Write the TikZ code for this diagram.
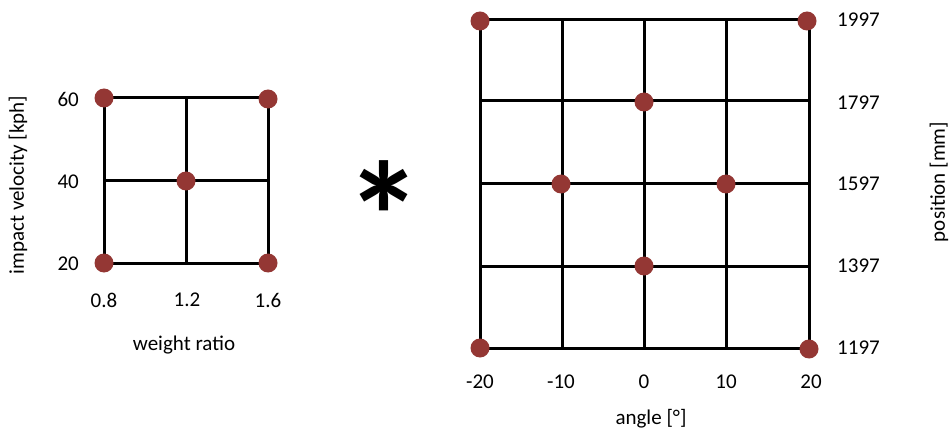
\documentclass[tikz,border=0pt]{standalone}
\usepackage{fontspec}
\setmainfont{Carlito}
\definecolor{dotred}{RGB}{148,55,52}
\begin{document}
\begin{tikzpicture}[x=1pt,y=-1pt,
  gridline/.style={line width=3pt,black},
  pt/.style={circle,fill=dotred,inner sep=0pt,minimum size=19pt},
  lbl/.style={font=\fontsize{21}{24}\selectfont,inner sep=0pt}]
\useasboundingbox (0,0) rectangle (949,430);
% left grid
\foreach \y in {98,181,263} \draw[gridline] (104,\y) -- (268,\y);
\foreach \x in {104,186,268} \draw[gridline] (\x,98) -- (\x,263);
\node[pt] (a1) at (104,98) {};
\node[pt] (a2) at (268,99) {};
\node[pt] (a3) at (186,181) {};
\node[pt] (a4) at (104,263) {};
\node[pt] (a5) at (268,263) {};
\node[lbl,anchor=east] (l60) at (79,99) {60};
\node[lbl,anchor=east] (l40) at (79,182) {40};
\node[lbl,anchor=east] (l20) at (79,264) {20};
\node[lbl] (l08) at (104,300) {0.8};
\node[lbl] (l12) at (187,300) {1.2};
\node[lbl] (l16) at (268,300) {1.6};
\node[lbl] (wr) at (184,345) {weight ratio};
\node[lbl,rotate=90] (iv) at (18,185) {impact velocity [kph]};
% asterisk
\node[font=\fontsize{155}{155}\selectfont\bfseries,inner sep=0pt] (star) at (384,216) {*};
% right grid
\foreach \y in {20,101,184,266,348} \draw[gridline] (480,\y) -- (809,\y);
\foreach \x in {480,562,644,726,809} \draw[gridline] (\x,20) -- (\x,348);
\node[pt] (b1) at (480,21) {};
\node[pt] (b2) at (807,21) {};
\node[pt] (b3) at (644,102) {};
\node[pt] (b4) at (561,184) {};
\node[pt] (b5) at (726,184) {};
\node[pt] (b6) at (644,266) {};
\node[pt] (b7) at (480,348) {};
\node[pt] (b8) at (809,349) {};
\node[lbl,anchor=west] (r1997) at (837,20) {1997};
\node[lbl,anchor=west] (r1797) at (837,103) {1797};
\node[lbl,anchor=west] (r1597) at (837,184) {1597};
\node[lbl,anchor=west] (r1397) at (837,266) {1397};
\node[lbl,anchor=west] (r1197) at (837,348) {1197};
\node[lbl] (cm20) at (480,382) {-20};
\node[lbl] (cm10) at (561,382) {-10};
\node[lbl] (c0) at (644,382) {0};
\node[lbl] (c10) at (726,382) {10};
\node[lbl] (c20) at (811,382) {20};
\node[lbl] (ang) at (651,419) {angle [°]};
\node[lbl,rotate=90] (pos) at (939,182) {position [mm]};
\end{tikzpicture}
\end{document}
